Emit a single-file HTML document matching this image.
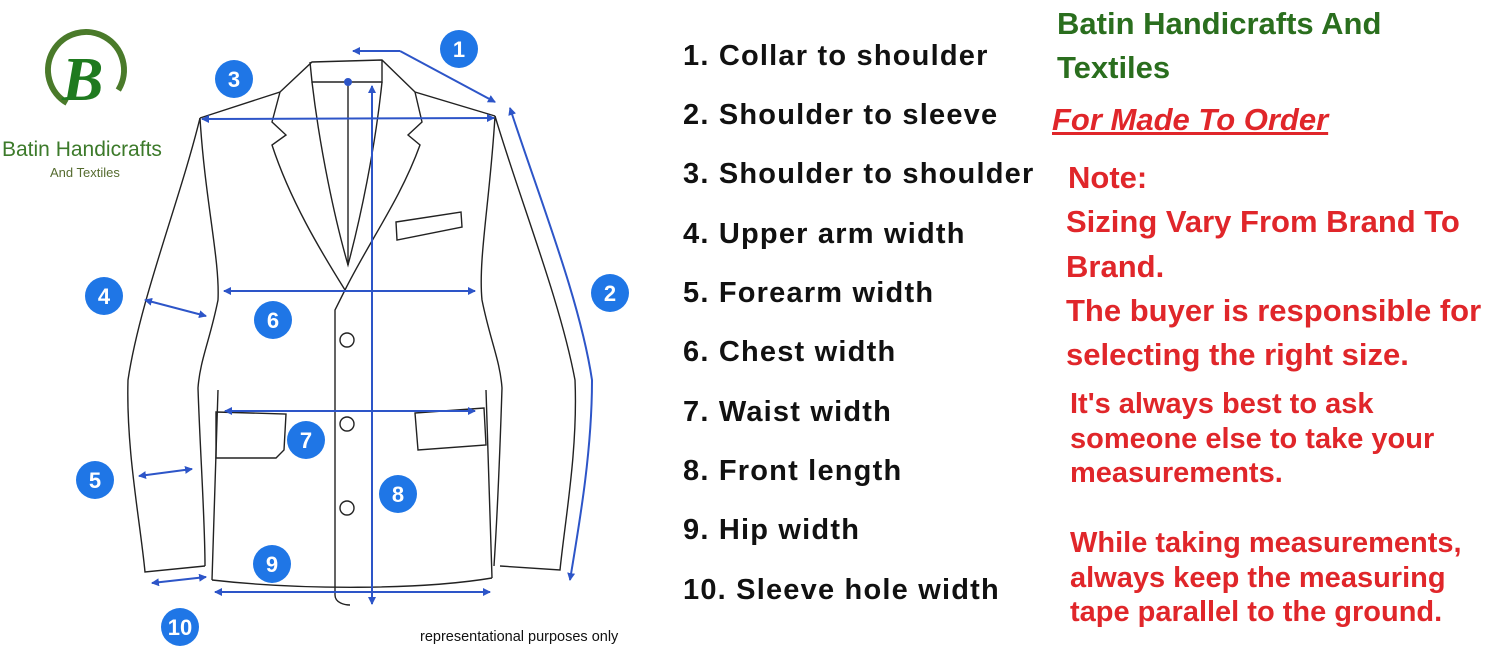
<!DOCTYPE html>
<html><head><meta charset="utf-8"><style>
body{margin:0;width:1500px;height:672px;background:#fff;overflow:hidden;position:relative;font-family:"Liberation Sans",sans-serif}
.t{position:absolute;white-space:nowrap}
.l{left:683px;font-size:29px;letter-spacing:1.2px;font-weight:bold;color:#111}
.g{color:#2a6e1e;font-weight:bold;font-size:31px;left:1057px}
.r{color:#e0262a;font-weight:bold}
</style></head><body>
<svg width="650" height="672" style="position:absolute;left:0;top:0">
<defs><marker id="a" markerWidth="8" markerHeight="8" refX="7" refY="4" orient="auto-start-reverse" markerUnits="userSpaceOnUse"><path d="M0,0L8,4L0,8z" fill="#2d55c8"/></marker></defs>
<circle cx="86" cy="70" r="38" fill="none" stroke="#4a7a2a" stroke-width="6" stroke-dasharray="180 60" transform="rotate(120 86 70)"/>
<text x="62" y="100" font-size="62" font-style="italic" font-weight="bold" fill="#1f7a1f" font-family="Liberation Serif,serif">B</text>
<text x="2" y="156" font-size="21" fill="#3c7a2a">Batin Handicrafts</text>
<text x="50" y="177" font-size="13" fill="#556b2f">And Textiles</text>
<g fill="none" stroke="#222" stroke-width="1.4">
<path d="M200,118 L280,92 L312,62 L382,60 L415,92 L495,116"/>
<path d="M200,118 C180,200 140,300 128,380 C126,450 140,520 145,572 L205,566"/>
<path d="M495,116 C520,200 560,300 575,380 C578,450 565,520 560,570 L500,566"/>
<path d="M200,118 C205,200 220,260 218,300 C210,340 200,360 198,388 C200,450 205,520 205,566"/>
<path d="M495,116 C490,200 478,260 482,300 C490,340 500,360 502,388 C500,450 497,520 494,566"/>
<path d="M212,580 C300,590 420,590 492,578"/>
<path d="M212,580 L218,390 M492,578 L486,390"/>
<path d="M310,62 L312,82 L382,82 L382,60"/>
<path d="M280,92 L272,122 L286,135 L272,145 C290,200 320,250 345,290 L335,310 L335,595 C335,603 345,605 350,605"/>
<path d="M415,92 L422,122 L408,135 L420,145 C400,200 370,240 345,290"/>
<path d="M312,82 C320,150 335,220 348,265 C360,220 375,150 382,82"/>
<path d="M348,82 L348,265"/>
<path d="M216,412 L286,414 L284,450 L276,458 L216,458 Z"/>
<path d="M415,413 L484,408 L486,445 L418,450 Z"/>
<path d="M396,222 L461,212 L462,227 L397,240 Z"/>
<circle cx="347" cy="340" r="7"/><circle cx="347" cy="424" r="7"/><circle cx="347" cy="508" r="7"/>
</g>
<g stroke="#2d55c8" stroke-width="2" fill="none">
<path d="M400,51 L353,51" marker-end="url(#a)"/><path d="M400,51 L495,102" marker-end="url(#a)"/>
<circle cx="348" cy="82" r="3" fill="#2d55c8"/>
<path d="M202,119 L494,118" marker-start="url(#a)" marker-end="url(#a)"/>
<path d="M510,108 C540,200 580,300 592,380 C592,450 580,520 570,580" marker-start="url(#a)" marker-end="url(#a)"/>
<path d="M145,300 L206,316" marker-start="url(#a)" marker-end="url(#a)"/>
<path d="M224,291 L475,291" marker-start="url(#a)" marker-end="url(#a)"/>
<path d="M225,411 L475,411" marker-start="url(#a)" marker-end="url(#a)"/>
<path d="M139,476 L192,469" marker-start="url(#a)" marker-end="url(#a)"/>
<path d="M372,86 L372,604" marker-start="url(#a)" marker-end="url(#a)"/>
<path d="M215,592 L490,592" marker-start="url(#a)" marker-end="url(#a)"/>
<path d="M152,583 L206,577" marker-start="url(#a)" marker-end="url(#a)"/>
</g>
<g fill="#1f76e6"><circle cx="459" cy="49" r="19"/><circle cx="234" cy="79" r="19"/><circle cx="610" cy="293" r="19"/><circle cx="104" cy="296" r="19"/><circle cx="273" cy="320" r="19"/><circle cx="306" cy="440" r="19"/><circle cx="95" cy="480" r="19"/><circle cx="398" cy="494" r="19"/><circle cx="272" cy="564" r="19"/><circle cx="180" cy="627" r="19"/></g>
<g fill="#fff" font-weight="bold" font-size="22" text-anchor="middle">
<text x="459" y="57">1</text><text x="234" y="87">3</text><text x="610" y="301">2</text><text x="104" y="304">4</text><text x="273" y="328">6</text><text x="306" y="448">7</text><text x="95" y="488">5</text><text x="398" y="502">8</text><text x="272" y="572">9</text><text x="180" y="635">10</text></g>
<text x="420" y="641" font-size="14.5" fill="#111">representational purposes only</text>
</svg>
<div class="t l" style="top:40px">1. Collar to shoulder</div>
<div class="t l" style="top:99px">2. Shoulder to sleeve</div>
<div class="t l" style="top:158px">3. Shoulder to shoulder</div>
<div class="t l" style="top:218px">4. Upper arm width</div>
<div class="t l" style="top:277px">5. Forearm width</div>
<div class="t l" style="top:336px">6. Chest width</div>
<div class="t l" style="top:396px">7. Waist width</div>
<div class="t l" style="top:455px">8. Front length</div>
<div class="t l" style="top:514px">9. Hip width</div>
<div class="t l" style="top:574px">10. Sleeve hole width</div>
<div class="t g" style="top:6px">Batin Handicrafts And</div>
<div class="t g" style="top:50px">Textiles</div>
<div class="t r" style="left:1052px;top:102px;font-size:31px;font-style:italic;text-decoration:underline">For Made To Order</div>
<div class="t r" style="left:1068px;top:160px;font-size:31px">Note:</div>
<div class="t r" style="left:1066px;top:204px;font-size:31px">Sizing Vary From Brand To</div>
<div class="t r" style="left:1066px;top:249px;font-size:31px">Brand.</div>
<div class="t r" style="left:1066px;top:293px;font-size:31px">The buyer is responsible for</div>
<div class="t r" style="left:1066px;top:337px;font-size:31px">selecting the right size.</div>
<div class="t r" style="left:1070px;top:388px;font-size:29px">It's always best to ask</div>
<div class="t r" style="left:1070px;top:423px;font-size:29px">someone else to take your</div>
<div class="t r" style="left:1070px;top:457px;font-size:29px">measurements.</div>
<div class="t r" style="left:1070px;top:527px;font-size:29px">While taking measurements,</div>
<div class="t r" style="left:1070px;top:562px;font-size:29px">always keep the measuring</div>
<div class="t r" style="left:1070px;top:596px;font-size:29px">tape parallel to the ground.</div>
</body></html>
